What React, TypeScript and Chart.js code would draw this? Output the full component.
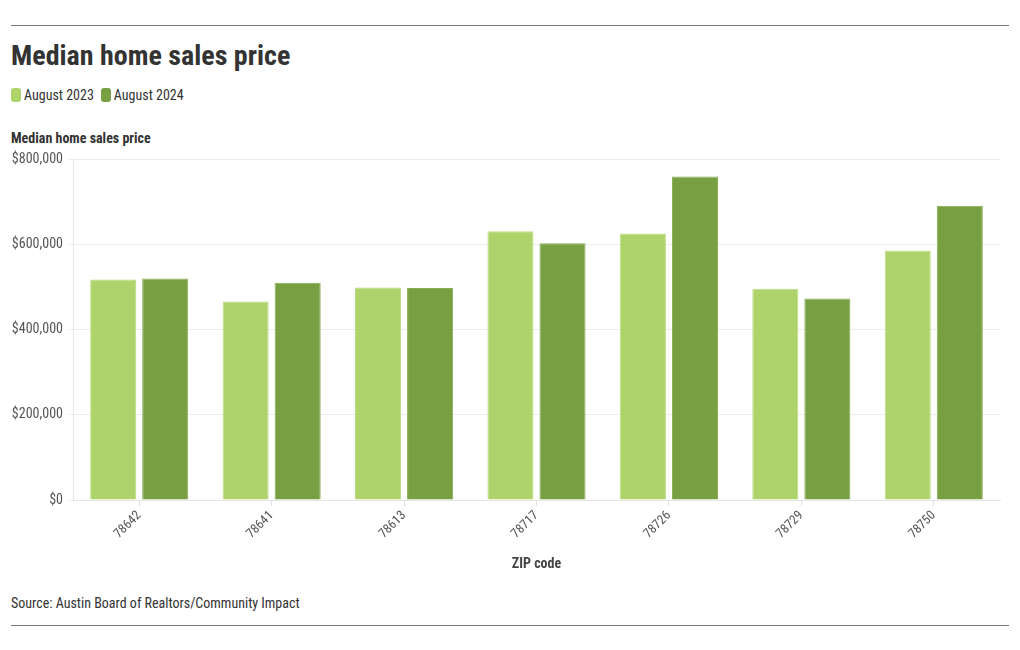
import React, { useEffect, useRef } from "react";
import { Chart, registerables } from "chart.js";

Chart.register(...registerables);

const zipCodes = ["78642", "78641", "78613", "78717", "78726", "78729", "78750"];
const aug2023 = [518000, 466000, 499000, 631000, 626000, 496000, 586000];
const aug2024 = [520000, 510000, 498000, 603000, 760000, 473000, 691000];
const seriesNames = ["August 2023", "August 2024"];
const yTicks = [0, 200000, 400000, 600000, 800000];

const LIGHT = "#aed36b";
const DARK = "#78a042";
const FONT = "'Roboto Condensed', 'Liberation Sans Narrow', Roboto, sans-serif";

export default function App() {
  const ref = useRef<HTMLCanvasElement | null>(null);

  useEffect(() => {
    if (!ref.current) return;
    const chart = new Chart(ref.current, {
      type: "bar",
      data: {
        labels: zipCodes,
        datasets: [
          {
            label: seriesNames[0],
            data: aug2023,
            backgroundColor: LIGHT,
            borderColor: "#bcdc84",
            borderWidth: 1,
            categoryPercentage: 0.786,
            barPercentage: 0.885,
          },
          {
            label: seriesNames[1],
            data: aug2024,
            backgroundColor: DARK,
            borderColor: "#86ad52",
            borderWidth: 1,
            categoryPercentage: 0.786,
            barPercentage: 0.885,
          },
        ],
      },
      options: {
        animation: false,
        responsive: false,
        maintainAspectRatio: false,
        layout: { padding: { left: 0, right: 20, top: 6, bottom: 0 } },
        plugins: {
          legend: { display: false },
          tooltip: { enabled: false },
          title: { display: false },
        },
        scales: {
          y: {
            min: 0,
            max: 800000,
            afterBuildTicks: (scale: any) => {
              scale.ticks = yTicks.map((v) => ({ value: v }));
            },
            afterFit: (scale: any) => {
              scale.width = 73;
            },
            border: { display: true, color: "#e6e6e6" },
            grid: { color: "#ececec", tickLength: 4 },
            ticks: {
              padding: 6,
              color: "#555",
              font: { family: FONT, size: 14 },
              callback: (v: any) => "$" + Number(v).toLocaleString("en-US"),
            },
          },
          x: {
            afterFit: (scale: any) => {
              scale.height = 80;
            },
            border: { display: true, color: "#e6e6e6" },
            grid: { display: true, offset: false, drawOnChartArea: false, color: "#e0e0e0", tickLength: 6 },
            ticks: {
              minRotation: 45,
              maxRotation: 45,
              padding: 2,
              color: "#555",
              font: { family: FONT, size: 13 },
            },
            title: {
              display: true,
              text: "ZIP code",
              color: "#444",
              font: { family: FONT, size: 14, weight: "bold" },
              padding: { top: 4, bottom: 7 },
            },
          },
        },
      },
    });
    return () => chart.destroy();
  }, []);

  const textStyle: React.CSSProperties = { fontFamily: FONT, position: "absolute", whiteSpace: "nowrap", margin: 0 };

  return (
    <div style={{ position: "absolute", left: 0, top: 0, width: 1020, height: 650, background: "#fff" }}>
      <div style={{ position: "absolute", left: 11, top: 25, width: 998, height: 1, background: "#7a7a7a" }} />
      <div style={{ ...textStyle, left: 11, top: 39, fontSize: 28, fontWeight: 700, color: "#333", lineHeight: "34px" }}>
        Median home sales price
      </div>
      <div style={{ ...textStyle, left: 11, top: 86, fontSize: 14, color: "#333", lineHeight: "18px", display: "flex", alignItems: "center" }}>
        <span style={{ display: "inline-block", width: 10, height: 14, borderRadius: 3, background: LIGHT, marginRight: 3 }} />
        <span style={{ marginRight: 7 }}>{seriesNames[0]}</span>
        <span style={{ display: "inline-block", width: 10, height: 14, borderRadius: 3, background: DARK, marginRight: 3 }} />
        <span>{seriesNames[1]}</span>
      </div>
      <div style={{ ...textStyle, left: 11, top: 129, fontSize: 14, fontWeight: 700, color: "#333", lineHeight: "18px" }}>
        Median home sales price
      </div>
      <div style={{ position: "absolute", left: 0, top: 145, width: 1020, height: 435 }}>
        <canvas ref={ref} width={1020} height={435} style={{ width: 1020, height: 435 }} />
      </div>
      <div style={{ ...textStyle, left: 11, top: 594, fontSize: 14, color: "#333", lineHeight: "18px" }}>
        Source: Austin Board of Realtors/Community Impact
      </div>
      <div style={{ position: "absolute", left: 11, top: 625, width: 998, height: 1, background: "#7a7a7a" }} />
    </div>
  );
}
